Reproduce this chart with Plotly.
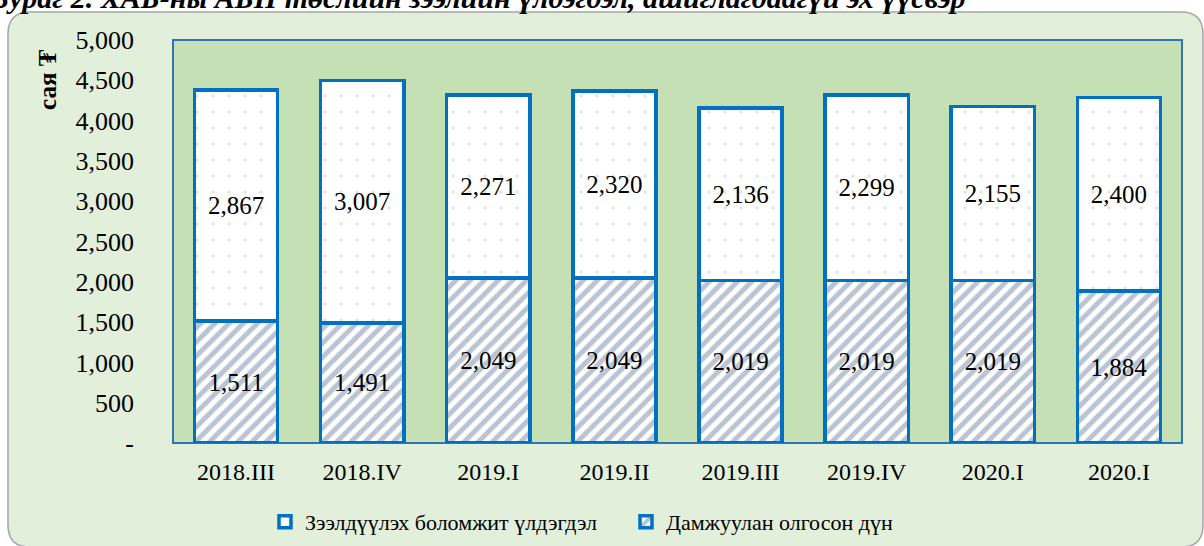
import plotly.graph_objects as go

categories = ["2018.III", "2018.IV", "2019.I", "2019.II", "2019.III", "2019.IV", "2020.I", "2020.I"]
disbursed = [1511, 1491, 2049, 2049, 2019, 2019, 2019, 1884]          # Дамжуулан олгосон дүн
available = [2867, 3007, 2271, 2320, 2136, 2299, 2155, 2400]          # Зээлдүүлэх боломжит үлдэгдэл
ytick_vals = [0, 500, 1000, 1500, 2000, 2500, 3000, 3500, 4000, 4500, 5000]
ytick_text = ["-", "500", "1,000", "1,500", "2,000", "2,500", "3,000", "3,500", "4,000", "4,500", "5,000"]
name_disb = "Дамжуулан олгосон дүн"
name_avail = "Зээлдүүлэх боломжит үлдэгдэл"
title_text = "Зураг 2. ХАБ-ны АБН төслийн зээлийн үлдэгдэл, ашиглагдаагүй эх үүсвэр"
ytitle = "сая ₮"

W, H = 1204, 546
L, R, T, B = 173, 1182, 40, 443
PW, PH = R - L, B - T

def px(x):
    return (x - L) / PW

def py(y):
    return (B - y) / PH

FONT = "Liberation Serif, Times New Roman, serif"
BLUE = "#0070C0"

xs = list(range(len(categories)))

fig = go.Figure()
fig.add_trace(go.Bar(
    x=xs, y=disbursed, name=name_disb,
    text=[f"{v:,}" for v in disbursed], textposition="inside", insidetextanchor="middle",
    textfont=dict(family=FONT, size=25, color="black"),
    marker=dict(color="white", line=dict(color=BLUE, width=3.5),
                pattern=dict(shape="/", fgcolor="#7589A8", bgcolor="white", size=10, solidity=0.5)),
    hoverinfo="skip",
))
fig.add_trace(go.Bar(
    x=xs, y=available, name=name_avail,
    text=[f"{v:,}" for v in available], textposition="inside", insidetextanchor="middle",
    textfont=dict(family=FONT, size=25, color="black"),
    marker=dict(color="white", line=dict(color=BLUE, width=3.5),
                pattern=dict(shape=".", fgcolor="#C0C0C0", bgcolor="white", size=16, solidity=0.03)),
    hoverinfo="skip",
))

# outer rounded panel
x0, y0, x1, y1, r = 8, 12, 1203, 547, 22
path = (f"M {px(x0+r)},{py(y0)} L {px(x1-r)},{py(y0)} Q {px(x1)},{py(y0)} {px(x1)},{py(y0+r)} "
        f"L {px(x1)},{py(y1-r)} Q {px(x1)},{py(y1)} {px(x1-r)},{py(y1)} "
        f"L {px(x0+r)},{py(y1)} Q {px(x0)},{py(y1)} {px(x0)},{py(y1-r)} "
        f"L {px(x0)},{py(y0+r)} Q {px(x0)},{py(y0)} {px(x0+r)},{py(y0)} Z")
shapes = [
    dict(type="path", xref="paper", yref="paper", path=path, fillcolor="#E2EFDA",
         line=dict(color="#A6A6A6", width=1.5), layer="below"),
    dict(type="rect", xref="paper", yref="paper", x0=0, x1=1, y0=0, y1=1, fillcolor="#C5E0B4",
         line=dict(color="#2E75B6", width=2), layer="below"),
]

annotations = [
    dict(text=f"<b><i>{title_text}</i></b>", xref="paper", yref="paper", x=px(968), y=py(-3),
         xanchor="right", yanchor="middle", showarrow=False,
         font=dict(family=FONT, size=30, color="black")),
    dict(text=f"<b>{ytitle}</b>", xref="paper", yref="paper", x=px(47), y=py(80),
         xanchor="center", yanchor="middle", showarrow=False, textangle=-90,
         font=dict(family=FONT, size=25, color="black")),
]

fig.update_layout(
    width=W, height=H,
    margin=dict(l=L, r=W - R, t=T, b=H - B, pad=0, autoexpand=False),
    paper_bgcolor="white", plot_bgcolor="rgba(0,0,0,0)",
    barmode="stack", bargap=0.34,
    font=dict(family=FONT, size=22, color="black"),
    shapes=shapes, annotations=annotations,
    showlegend=True,
    legend=dict(orientation="h", x=px(265), y=py(522), xanchor="left", yanchor="middle",
                traceorder="reversed", font=dict(family=FONT, size=22, color="black"),
                bgcolor="rgba(0,0,0,0)", entrywidth=316, entrywidthmode="pixels"),
    uniformtext=dict(minsize=10, mode="show"),
)
fig.update_xaxes(range=[-0.5, len(categories) - 0.5], tickvals=xs, ticktext=categories,
                 showgrid=False, zeroline=False, showline=False, ticks="",
                 ticklabelstandoff=12, tickfont=dict(family=FONT, size=24, color="black"))
fig.update_yaxes(range=[0, 5000], tickvals=ytick_vals, ticktext=ytick_text,
                 showgrid=False, zeroline=False, showline=False, ticks="",
                 ticklabelstandoff=38, tickfont=dict(family=FONT, size=26, color="black"))

fig.write_html("out.html")
